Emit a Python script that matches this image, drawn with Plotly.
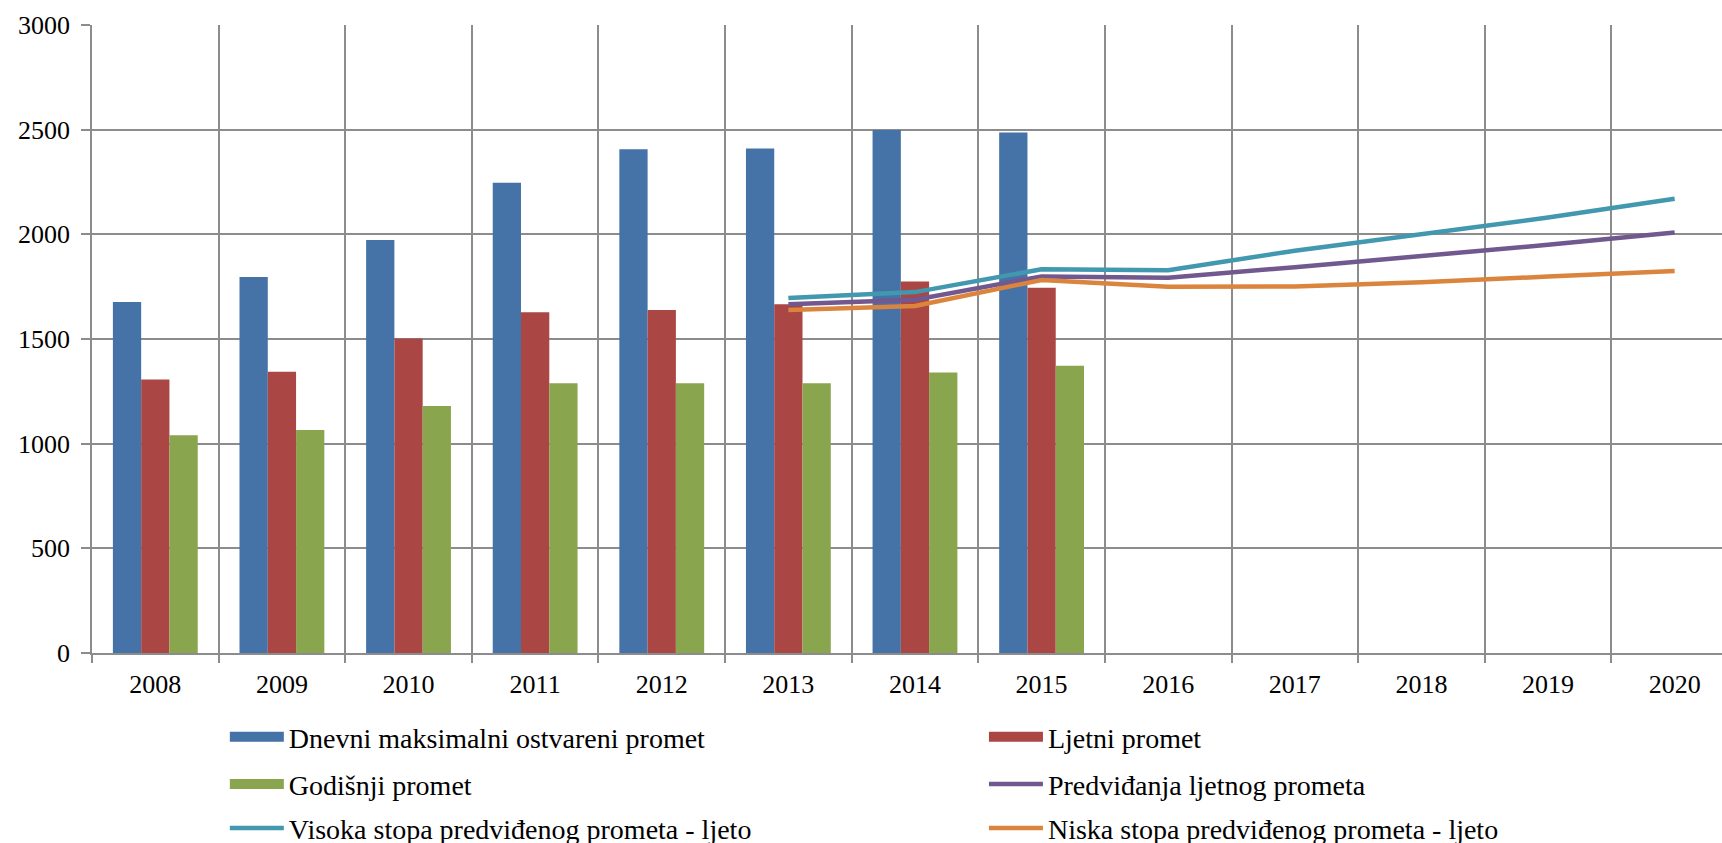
import plotly.graph_objects as go

years = ["2008", "2009", "2010", "2011", "2012", "2013", "2014", "2015",
         "2016", "2017", "2018", "2019", "2020"]
bar_years = years[:8]
dnevni = [1677, 1796, 1973, 2246, 2406, 2410, 2498, 2487]
ljetni = [1306, 1344, 1502, 1628, 1639, 1666, 1775, 1745]
godisnji = [1040, 1065, 1180, 1289, 1289, 1289, 1340, 1372]

line_years = years[5:]
predvidanja = [1666, 1688, 1799, 1793, 1843, 1895, 1950, 2009]
visoka = [1696, 1724, 1833, 1828, 1922, 2002, 2080, 2170]
niska = [1639, 1658, 1782, 1750, 1751, 1771, 1798, 1825]

y_ticks = [0, 500, 1000, 1500, 2000, 2500, 3000]

FONT = "Liberation Serif, Times New Roman, serif"

bar_series = [
    ("Dnevni maksimalni ostvareni promet", dnevni, "#4572A7", "legend"),
    ("Ljetni promet", ljetni, "#AA4643", "legend2"),
    ("Godišnji promet", godisnji, "#89A54E", "legend3"),
]
line_series = [
    ("Predviđanja ljetnog prometa", predvidanja, "#71588F", "legend4"),
    ("Visoka stopa predviđenog prometa - ljeto", visoka, "#4198AF", "legend5"),
    ("Niska stopa predviđenog prometa - ljeto", niska, "#DB843D", "legend6"),
]

fig = go.Figure()
for name, vals, color, leg in bar_series:
    fig.add_trace(go.Bar(x=bar_years, y=vals, name=name, legendgroup=name,
                         marker=dict(color=color, line=dict(width=0)),
                         showlegend=False))
    # legend-only entry with a wide rectangular swatch like the original
    fig.add_trace(go.Scatter(x=[None], y=[None], name=name, legendgroup=name,
                             mode="lines", line=dict(color=color, width=16),
                             legend=leg, hoverinfo="skip"))
for name, vals, color, leg in line_series:
    fig.add_trace(go.Scatter(x=line_years, y=vals, name=name, mode="lines",
                             line=dict(color=color, width=4.5), legend=leg))

def leg(x, y):
    return dict(orientation="h", xanchor="left", yanchor="middle", x=x, y=y,
                itemwidth=54, font=dict(family=FONT, size=28, color="#000"),
                bgcolor="rgba(0,0,0,0)")

c1, c2 = 0.0815, 0.5472
r1, r2, r3 = -0.134, -0.209, -0.279

fig.update_layout(
    width=1722, height=843,
    margin=dict(l=92, r=0, t=25, b=190, autoexpand=False),
    paper_bgcolor="white", plot_bgcolor="white",
    barmode="group", bargap=0.33, bargroupgap=0,
    font=dict(family=FONT, size=26, color="#000"),
    legend=leg(c1, r1), legend2=leg(c2, r1),
    legend3=leg(c1, r2), legend4=leg(c2, r2),
    legend5=leg(c1, r3), legend6=leg(c2, r3),
    xaxis=dict(type="category", categoryorder="array", categoryarray=years,
               range=[-0.5, 12.374], tickson="boundaries",
               showgrid=True, gridcolor="#8c8c8c", gridwidth=1.5,
               ticks="outside", ticklen=8, tickcolor="#8c8c8c", tickwidth=1.5,
               showline=True, linecolor="#8c8c8c", linewidth=1.5,
               ticklabelstandoff=7,
               tickfont=dict(family=FONT, size=26, color="#000")),
    yaxis=dict(range=[0, 3000], tickvals=y_ticks, showgrid=True,
               gridcolor="#8c8c8c", gridwidth=1.5, zeroline=False,
               ticks="outside", ticklen=9, tickcolor="#8c8c8c", tickwidth=1.5,
               showline=True, linecolor="#8c8c8c", linewidth=1.5,
               ticklabelstandoff=6,
               tickfont=dict(family=FONT, size=26, color="#000")),
)

fig.write_html("out.html", config={"displayModeBar": False},
               post_script="document.body.style.margin='0';document.body.style.padding='0';")
